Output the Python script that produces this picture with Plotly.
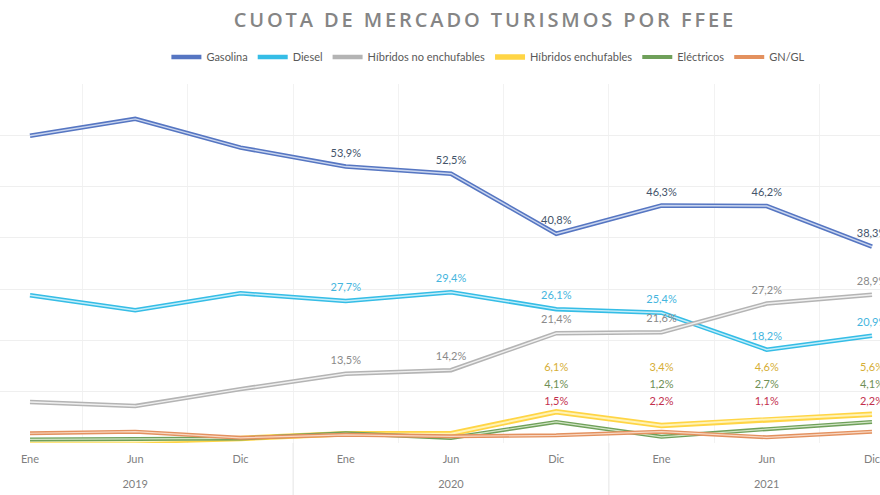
import plotly.graph_objects as go

# ---- data ----
years = ["2019", "2019", "2019", "2020", "2020", "2020", "2021", "2021", "2021"]
months = ["Ene", "Jun", "Dic", "Ene", "Jun", "Dic", "Ene", "Jun", "Dic"]

series_names = ["Gasolina", "Diesel", "Híbridos no enchufables",
                "Híbridos enchufables", "Eléctricos", "GN/GL"]
gasolina = [59.9, 63.2, 57.6, 53.9, 52.5, 40.8, 46.3, 46.2, 38.3]
diesel = [28.8, 25.9, 29.2, 27.7, 29.4, 26.1, 25.4, 18.2, 20.9]
hibridos_no_ench = [8.0, 7.2, 10.5, 13.5, 14.2, 21.4, 21.6, 27.2, 28.9]
hibridos_ench = [0.3, 0.3, 0.9, 1.8, 1.8, 6.1, 3.4, 4.6, 5.6]
electricos = [0.7, 0.8, 0.9, 1.9, 1.0, 4.1, 1.2, 2.7, 4.1]
gn_gl = [1.9, 2.2, 1.0, 1.6, 1.3, 1.5, 2.2, 1.1, 2.2]
values = [gasolina, diesel, hibridos_no_ench, hibridos_ench, electricos, gn_gl]

# index of first labelled point per series
label_from = [3, 3, 3, 5, 5, 5]

# ---- styles ----
outer_colors = ["#5676C2", "#35BDE6", "#B4B4B4", "#FFD545", "#6FA05A", "#E3915F"]
inner_colors = ["#CAD6EF", "#C4EDF9", "#F0F0F0", "#FFF3B8", "#D2E5C6", "#F8D8C4"]
outer_w = [4.5, 4.5, 4.5, 5.5, 4, 4]
inner_w = [1.4, 1.4, 1.4, 2.0, 1.2, 1.2]
label_colors = ["#44546A", "#45B5DE", "#8A8A8A", "#D6AE35", "#6E8F55", "#C3304E"]
# fixed label rows (axis %) for the small series; None = above the point
label_rows = [None, None, None, 14.6, 11.3, 8.0]

FONT = "Lato"
cat_keys = [f"{m} {y}" for m, y in zip(months, years)]

# year groups: centre category and boundaries
groups = []
for i, yv in enumerate(years):
    if not groups or groups[-1][0] != yv:
        groups.append([yv, i, i])
    else:
        groups[-1][2] = i
year_tickvals = [cat_keys[(a + b) // 2] for _, a, b in groups]
year_ticktext = [g[0] for g in groups]
boundaries = [a - 0.5 for _, a, _ in groups[1:]]

fig = go.Figure()
for name, vals, oc, ic, ow, iw in zip(series_names, values, outer_colors,
                                      inner_colors, outer_w, inner_w):
    fig.add_trace(go.Scatter(x=cat_keys, y=vals, mode="lines", name=name,
                             line=dict(color=oc, width=ow), legendgroup=name))
    fig.add_trace(go.Scatter(x=cat_keys, y=vals, mode="lines", name=name,
                             showlegend=False, line=dict(color=ic, width=iw),
                             legendgroup=name, hoverinfo="skip"))

for name, vals, lc, row, start in zip(series_names, values, label_colors,
                                      label_rows, label_from):
    texts = ["" if i < start else f"{v:.1f}%".replace(".", ",")
             for i, v in enumerate(vals)]
    if row is None:
        fig.add_trace(go.Scatter(
            x=cat_keys, y=vals, mode="markers+text", text=texts,
            textposition="top center", showlegend=False, hoverinfo="skip",
            marker=dict(size=10, opacity=0),
            textfont=dict(color=lc, size=11, family=FONT)))
    else:
        fig.add_trace(go.Scatter(
            x=cat_keys, y=[row] * len(vals), mode="text", text=texts,
            textposition="middle center", showlegend=False, hoverinfo="skip",
            textfont=dict(color=lc, size=11, family=FONT)))

# invisible carrier for the year axis
fig.add_trace(go.Scatter(x=cat_keys, y=[None] * len(cat_keys), xaxis="x2",
                         mode="lines", showlegend=False, hoverinfo="skip"))

for b in boundaries:
    fig.add_shape(type="line", xref="x", yref="paper", x0=b, x1=b,
                  y0=0, y1=-0.145, line=dict(color="#E4E4E4", width=1))

xr = [-0.285, 8.076]
fig.update_layout(
    width=880, height=495,
    margin=dict(l=0, r=0, t=84, b=52),
    paper_bgcolor="white", plot_bgcolor="white",
    font=dict(family=FONT, color="#7F7F7F", size=11),
    title=dict(text="CUOTA DE MERCADO TURISMOS POR FFEE",
               x=0.551, xanchor="center", y=0.96, yanchor="middle",
               font=dict(family="Open Sans", size=20, color="#858585", weight=600)),
    legend=dict(orientation="h", x=0.555, xanchor="center", y=1.075,
                yanchor="middle", font=dict(size=11, color="#595959", family=FONT),
                itemwidth=30, bgcolor="rgba(0,0,0,0)", traceorder="normal"),
    showlegend=True,
    xaxis=dict(type="category", categoryorder="array", categoryarray=cat_keys,
               tickmode="array", tickvals=cat_keys, ticktext=months,
               range=xr, tickson="boundaries", showgrid=True, gridcolor="#F2F2F2",
               ticks="", showline=False, automargin=False, ticklabelstandoff=8,
               tickfont=dict(size=11, color="#7F7F7F", family=FONT)),
    xaxis2=dict(type="category", categoryorder="array", categoryarray=cat_keys,
                overlaying="x", anchor="y", side="bottom", range=xr,
                tickmode="array", tickvals=year_tickvals, ticktext=year_ticktext,
                showgrid=False, ticks="", showline=False, zeroline=False,
                automargin=False, ticklabelstandoff=33,
                tickfont=dict(size=11, color="#7F7F7F", family=FONT)),
    yaxis=dict(range=[0, 70], dtick=10, showticklabels=False,
               showgrid=True, gridcolor="#EFEFEF", zeroline=False,
               automargin=False),
)

post = ("var s=document.createElement('style');"
        "s.textContent='.gtitle{letter-spacing:2.9px;}';"
        "document.head.appendChild(s);")
fig.write_html("out.html", post_script=post)
